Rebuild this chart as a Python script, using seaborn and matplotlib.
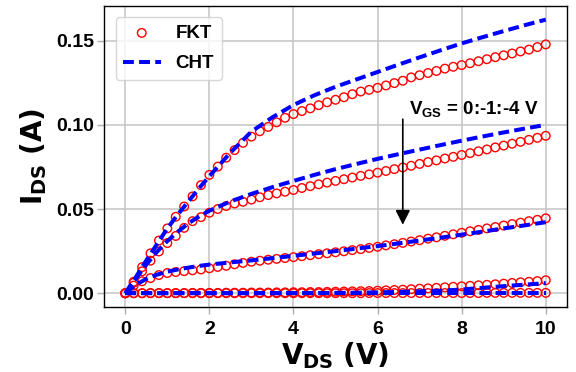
import numpy as np
import pandas as pd
import matplotlib
matplotlib.use("Agg")
import matplotlib.pyplot as plt
import seaborn as sns

# Drain voltage sweep for the measured (FKT) points, step 0.2 V
vds_fkt = [0.0, 0.2, 0.4, 0.6, 0.8, 1.0, 1.2, 1.4, 1.6, 1.8, 2.0, 2.2, 2.4, 2.6, 2.8,
           3.0, 3.2, 3.4, 3.6, 3.8, 4.0, 4.2, 4.4, 4.6, 4.8, 5.0, 5.2, 5.4, 5.6, 5.8,
           6.0, 6.2, 6.4, 6.6, 6.8, 7.0, 7.2, 7.4, 7.6, 7.8, 8.0, 8.2, 8.4, 8.6, 8.8,
           9.0, 9.2, 9.4, 9.6, 9.8, 10.0]

ids_fkt_vgs0 = [0.0, 0.0068, 0.0155, 0.0237, 0.0313, 0.0385, 0.0454, 0.0515, 0.0575, 0.0642,
                0.0703, 0.0752, 0.0805, 0.0850, 0.0893, 0.0930, 0.0962, 0.0988, 0.1015, 0.1042,
                0.1064, 0.1082, 0.1098, 0.1117, 0.1134, 0.1149, 0.1164, 0.1182, 0.1198, 0.1208,
                0.1220, 0.1234, 0.1248, 0.1262, 0.1282, 0.1295, 0.1308, 0.1320, 0.1334, 0.1345,
                0.1355, 0.1366, 0.1378, 0.1390, 0.1402, 0.1413, 0.1424, 0.1436, 0.1447, 0.1462,
                0.1478]
ids_fkt_vgs1 = [0.0, 0.0062, 0.0130, 0.0193, 0.0248, 0.0298, 0.0340, 0.0388, 0.0428, 0.0452,
                0.0478, 0.0500, 0.0518, 0.0533, 0.0543, 0.0556, 0.0570, 0.0583, 0.0593, 0.0603,
                0.0613, 0.0625, 0.0636, 0.0647, 0.0657, 0.0667, 0.0677, 0.0687, 0.0697, 0.0706,
                0.0716, 0.0726, 0.0737, 0.0747, 0.0757, 0.0768, 0.0779, 0.0789, 0.0800, 0.0810,
                0.0821, 0.0832, 0.0843, 0.0854, 0.0866, 0.0877, 0.0888, 0.0899, 0.0911, 0.0923,
                0.0935]
ids_fkt_vgs2 = [0.0, 0.0045, 0.0071, 0.0090, 0.0108, 0.0120, 0.0126, 0.0131, 0.0136, 0.0141,
                0.0148, 0.0156, 0.0163, 0.0172, 0.0180, 0.0187, 0.0193, 0.0199, 0.0204, 0.0209,
                0.0214, 0.0220, 0.0226, 0.0232, 0.0237, 0.0243, 0.0249, 0.0256, 0.0262, 0.0269,
                0.0276, 0.0284, 0.0291, 0.0299, 0.0307, 0.0315, 0.0324, 0.0332, 0.0341, 0.0350,
                0.0359, 0.0368, 0.0376, 0.0385, 0.0393, 0.0402, 0.0411, 0.0419, 0.0428, 0.0436,
                0.0445]
ids_fkt_vgs3 = [0.0, 0.0000, 0.0000, 0.0001, 0.0001, 0.0001, 0.0001, 0.0001, 0.0002, 0.0002,
                0.0002, 0.0002, 0.0003, 0.0003, 0.0003, 0.0004, 0.0004, 0.0004, 0.0005, 0.0005,
                0.0006, 0.0006, 0.0007, 0.0007, 0.0008, 0.0009, 0.0010, 0.0011, 0.0012, 0.0013,
                0.0015, 0.0017, 0.0019, 0.0021, 0.0024, 0.0027, 0.0029, 0.0032, 0.0035, 0.0038,
                0.0041, 0.0044, 0.0047, 0.0050, 0.0053, 0.0057, 0.0061, 0.0065, 0.0068, 0.0072,
                0.0077]
ids_fkt_vgs4 = [0.0, 0.0, 0.0, 0.0, 0.0, 0.0, 0.0, 0.0, 0.0, 0.0,
                0.0, 0.0, 0.0, 0.0, 0.0, 0.0, 0.0, 0.0, 0.0, 0.0,
                0.0, 0.0, 0.0, 0.0, 0.0, 0.0, 0.0, 0.0, 0.0, 0.0001,
                0.0001, 0.0001, 0.0001, 0.0001, 0.0001, 0.0001, 0.0001, 0.0001, 0.0001, 0.0001,
                0.0001, 0.0001, 0.0001, 0.0002, 0.0002, 0.0002, 0.0002, 0.0002, 0.0002, 0.0002,
                0.0002]

# Model (CHT) curves
vds_cht = [0.0, 0.25, 0.5, 0.75, 1.0, 1.25, 1.5, 1.75, 2.0, 2.5, 3.0, 3.5, 4.0, 4.5, 5.0,
           5.5, 6.0, 6.5, 7.0, 7.5, 8.0, 8.5, 9.0, 9.5, 10.0]
ids_cht_vgs0 = [0.0, 0.0095, 0.0195, 0.0290, 0.0385, 0.0468, 0.0545, 0.0622, 0.0695, 0.0835,
                0.0960, 0.1045, 0.1118, 0.1176, 0.1226, 0.1270, 0.1314, 0.1358, 0.1401, 0.1443,
                0.1484, 0.1521, 0.1557, 0.1592, 0.1625]
ids_cht_vgs1 = [0.0, 0.0085, 0.0170, 0.0245, 0.0310, 0.0365, 0.0415, 0.0455, 0.0490, 0.0545,
                0.0590, 0.0630, 0.0667, 0.0703, 0.0737, 0.0768, 0.0798, 0.0826, 0.0853, 0.0880,
                0.0906, 0.0931, 0.0955, 0.0978, 0.1000]
ids_cht_vgs2 = [0.0, 0.0050, 0.0085, 0.0110, 0.0128, 0.0141, 0.0152, 0.0162, 0.0170, 0.0183,
                0.0195, 0.0208, 0.0222, 0.0236, 0.0250, 0.0265, 0.0280, 0.0296, 0.0313, 0.0330,
                0.0348, 0.0366, 0.0385, 0.0403, 0.0422]
ids_cht_vgs3 = [0.0, 0.0, 0.0, 0.0, 0.0, 0.0, 0.0, 0.0, 0.0, 0.0,
                0.0, 0.0, 0.0001, 0.0001, 0.0002, 0.0003, 0.0005, 0.0008, 0.0011, 0.0015,
                0.0022, 0.0032, 0.0042, 0.0051, 0.0060]
ids_cht_vgs4 = [0.0] * 25

vgs_levels = [0, -1, -2, -3, -4]
fkt_curves = [ids_fkt_vgs0, ids_fkt_vgs1, ids_fkt_vgs2, ids_fkt_vgs3, ids_fkt_vgs4]
cht_curves = [ids_cht_vgs0, ids_cht_vgs1, ids_cht_vgs2, ids_cht_vgs3, ids_cht_vgs4]

fkt = pd.concat([pd.DataFrame({"vds": vds_fkt, "ids": c, "vgs": g})
                 for g, c in zip(vgs_levels, fkt_curves)], ignore_index=True)
cht = pd.concat([pd.DataFrame({"vds": vds_cht, "ids": c, "vgs": g})
                 for g, c in zip(vgs_levels, cht_curves)], ignore_index=True)

sns.set_theme(style="whitegrid")
plt.rcParams["font.family"] = ["Liberation Sans", "DejaVu Sans"]
plt.rcParams["mathtext.fontset"] = "custom"
plt.rcParams["mathtext.rm"] = "Liberation Sans"
plt.rcParams["mathtext.bf"] = "Liberation Sans:bold"
plt.rcParams["text.color"] = "black"
plt.rcParams["axes.labelcolor"] = "black"

fig, ax = plt.subplots(figsize=(5.76, 3.72), dpi=100)
fig.subplots_adjust(left=0.181, right=0.984, top=0.984, bottom=0.175)

# measured points first, model curves drawn over them
for i, g in enumerate(vgs_levels):
    d = fkt[fkt["vgs"] == g]
    sns.scatterplot(data=d, x="vds", y="ids", ax=ax, marker="o", s=38,
                    facecolor="none", edgecolor="red", linewidth=1.0,
                    label="FKT" if i == 0 else None, zorder=2)
for i, g in enumerate(vgs_levels):
    d = cht[cht["vgs"] == g]
    sns.lineplot(data=d, x="vds", y="ids", ax=ax, color="blue", lw=2.9,
                 linestyle=(0, (2.7, 1.3)), sort=False, estimator=None,
                 label="CHT" if i == 0 else None, zorder=3)

ax.set_xticks([0, 2, 4, 6, 8, 10])
ax.set_yticks([0.00, 0.05, 0.10, 0.15])
ax.set_yticklabels(["0.00", "0.05", "0.10", "0.15"])
ax.tick_params(axis="both", labelsize=14, length=5, width=1, color="#b0b0b0",
               labelcolor="black", left=True, bottom=True)
ax.tick_params(axis="x", pad=5.5)
ax.tick_params(axis="y", pad=2.5)
for lab in ax.get_xticklabels() + ax.get_yticklabels():
    lab.set_fontweight("bold")
ax.grid(True, color="#c8c8c8", lw=1.2)
for sp in ax.spines.values():
    sp.set_color("black")
    sp.set_linewidth(1.0)

xl = ax.set_xlabel(r"$\mathbf{V_{DS}\ (V)}$", fontsize=20, labelpad=1)
yl = ax.set_ylabel(r"$\mathbf{I_{DS}\ (A)}$", fontsize=20, labelpad=5)
xl.set_math_fontfamily("dejavusans")
yl.set_math_fontfamily("dejavusans")

ax.annotate("", xy=(6.6, 0.0390), xytext=(6.6, 0.105),
            arrowprops=dict(arrowstyle="-|>", color="black", lw=1.2, mutation_scale=22))
ax.text(6.74, 0.106, r"V$_{\mathbf{GS}}$ = 0:-1:-4 V", fontsize=13.5, fontweight="bold",
        ha="left", va="baseline")

handles, labels = ax.get_legend_handles_labels()
order = [labels.index("FKT"), labels.index("CHT")]
ax.legend([handles[k] for k in order], [labels[k] for k in order], loc="upper left",
          prop={"weight": "bold", "size": 13.5}, frameon=True, scatterpoints=1,
          borderaxespad=0.6, labelspacing=0.7)

fig.savefig("out.png", dpi=100)
